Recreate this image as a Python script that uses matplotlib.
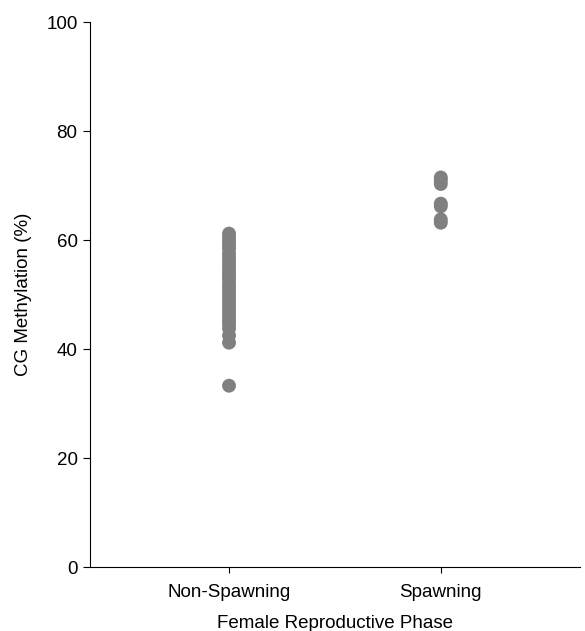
import matplotlib
matplotlib.use("Agg")
import matplotlib.pyplot as plt

plt.rcParams['font.family'] = ['Liberation Sans', 'DejaVu Sans']

phases = ["Non-Spawning", "Spawning"]
non_spawning = [61.2, 60.5, 59.8, 59.1, 58.5, 57.6, 56.9, 56.2, 55.5, 54.8, 54.1,
                53.5, 52.8, 52.0, 51.3, 50.6, 49.8, 49.0, 48.3, 47.5, 46.8, 46.0,
                45.3, 44.6, 43.8, 42.5, 41.2, 33.3]
spawning = [71.5, 71.0, 70.3, 66.7, 66.2, 63.8, 63.2]

fig = plt.figure(figsize=(5.85, 6.31), dpi=100)
ax = fig.add_axes([0.154, 0.101, 0.837, 0.864])

for i, vals in enumerate([non_spawning, spawning]):
    ax.scatter([i] * len(vals), vals, s=100, color='#808080', edgecolors='none', zorder=3)

ax.set_xlim(-0.656, 1.656)
ax.set_ylim(0, 100)
ax.set_xticks(range(len(phases)))
ax.set_xticklabels(phases, fontsize=13.5)
ax.set_yticks([0, 20, 40, 60, 80, 100])
ax.tick_params(axis='y', labelsize=13.5, length=5, width=0.8, pad=4)
ax.tick_params(axis='x', length=4, width=0.8, pad=8)
ax.set_xlabel("Female Reproductive Phase", fontsize=13.5, labelpad=10)
ax.set_ylabel("CG Methylation (%)", fontsize=13.5, labelpad=10)
ax.spines['top'].set_visible(False)
ax.spines['right'].set_visible(False)

fig.savefig("out.png", dpi=100)
